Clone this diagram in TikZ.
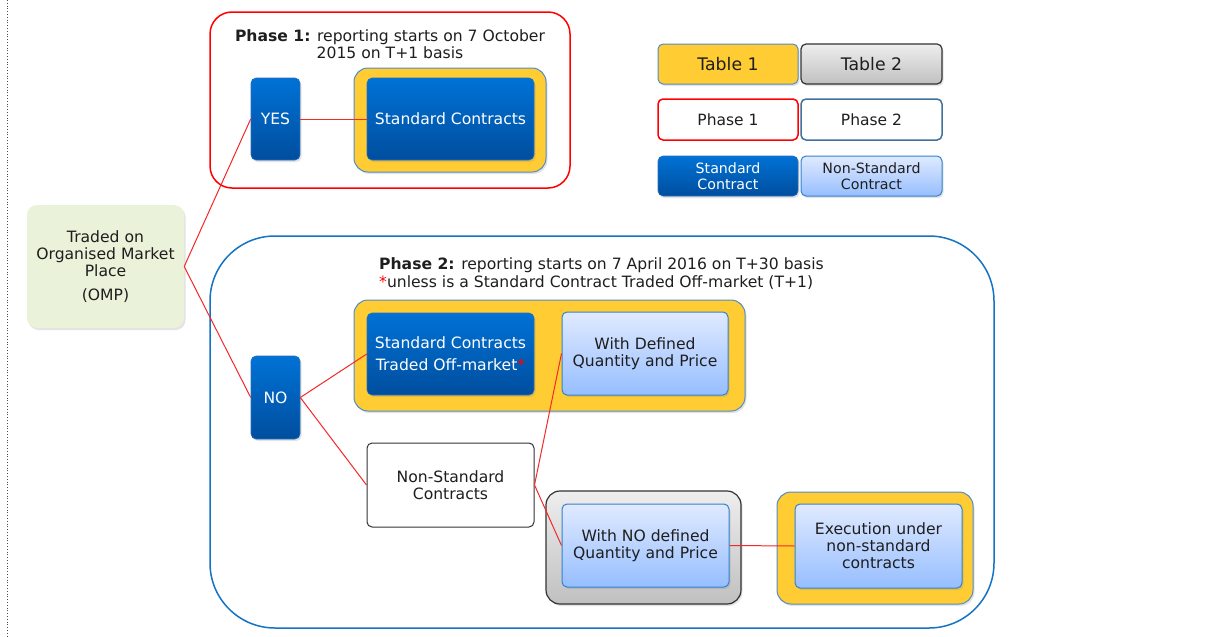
\documentclass[tikz,border=0pt]{standalone}
\usepackage{fontspec}
\setmainfont{DejaVu Sans}
\usetikzlibrary{shadows}
\definecolor{stdtop}{RGB}{0,114,214}
\definecolor{stdbot}{RGB}{0,78,158}
\definecolor{stdborder}{RGB}{40,110,190}
\definecolor{lbtop}{RGB}{224,234,255}
\definecolor{lbbot}{RGB}{150,190,255}
\definecolor{lbborder}{RGB}{50,130,205}
\definecolor{ygold}{RGB}{255,205,51}
\definecolor{yborder}{RGB}{80,140,200}
\definecolor{gtop}{RGB}{238,238,238}
\definecolor{gbot}{RGB}{192,192,192}
\definecolor{p2blue}{RGB}{20,115,195}
\definecolor{ompfill}{RGB}{235,242,218}
\definecolor{txt}{RGB}{30,30,30}
\definecolor{legptwo}{RGB}{65,113,156}
\definecolor{connred}{RGB}{245,40,40}
\tikzset{
  box/.style={rectangle, rounded corners=5pt, inner sep=0pt, align=center,
    font=\fontsize{15.6}{17}\selectfont, text=txt},
  shad/.style={drop shadow={opacity=0.22, shadow xshift=1.5pt, shadow yshift=-2pt}},
  stdbox/.style={box, shad, draw=stdborder, line width=0.6pt, top color=stdtop, bottom color=stdbot, text=white},
  lbbox/.style={box, shad, draw=lbborder, line width=1pt, top color=lbtop, bottom color=lbbot},
  ybox/.style={rectangle, shad, rounded corners=14pt, draw=yborder, line width=1pt, fill=ygold, inner sep=0pt},
  gbox/.style={rectangle, shad, rounded corners=14pt, draw=black!80, line width=1.2pt, top color=gtop, bottom color=gbot, inner sep=0pt},
  frame/.style={rectangle, inner sep=0pt, line width=1.5pt},
  conn/.style={draw=connred, line width=1pt},
}
\begin{document}
\begin{tikzpicture}[x=1pt,y=-1pt]
\useasboundingbox (0,0) rectangle (1205,637);
\fill[white] (0,0) rectangle (1205,637);
\draw[dotted, black!70, line width=0.8pt] (7,0) -- (7,637);

% Phase 1 frame
\node[frame, draw=red, rounded corners=22pt, minimum width=360pt, minimum height=176pt] (p1) at (390,100) {};
\node[box] (p1t) at (390,44.5) {\textbf{Phase 1:} reporting starts on 7 October\\2015 on T+1 basis};

% Phase 2 frame
\node[frame, draw=p2blue, rounded corners=65pt, minimum width=784pt, minimum height=392pt] (p2) at (602,432) {};
\node[box, anchor=west, align=left, font=\fontsize{15.6}{18}\selectfont] (p2t) at (379,274) {\textbf{Phase 2:} reporting starts on 7 April 2016 on T+30 basis\\\textcolor{red}{*}unless is a Standard Contract Traded Off-market (T+1)};

% OMP
\node[box, shad, rounded corners=10pt, fill=ompfill, minimum width=157pt, minimum height=123pt] (omp) at (105.5,266.5) {Traded on\\Organised Market\\Place\\[7pt](OMP)};

% Phase 1 content
\node[stdbox, minimum width=49pt, minimum height=82pt] (yes) at (275.5,119) {YES};
\node[ybox, minimum width=192pt, minimum height=104pt] (y1) at (450,120) {};
\node[stdbox, minimum width=167pt, minimum height=82pt] (std1) at (450.5,119) {Standard Contracts};

% Phase 2 content
\node[stdbox, minimum width=49pt, minimum height=83pt] (no) at (275.5,397.5) {NO};
\node[ybox, minimum width=391pt, minimum height=111pt] (y2) at (549.5,355.5) {};
\node[stdbox, minimum width=167pt, minimum height=82pt] (stdoff) at (450.5,354) {Standard Contracts\\[5pt]Traded Off-market\textcolor{red}{*}};
\node[lbbox, minimum width=166pt, minimum height=83pt] (defq) at (645,353.5) {With Defined\\Quantity and Price};
\node[box, fill=white, draw=black!80, line width=1pt, minimum width=167pt, minimum height=84pt] (nonstd) at (450.5,485) {Non-Standard\\Contracts};
\node[gbox, minimum width=195pt, minimum height=113pt] (g1) at (643.5,547.5) {};
\node[lbbox, minimum width=167pt, minimum height=83pt] (noq) at (645.5,545.5) {With NO defined\\Quantity and Price};
\node[ybox, minimum width=196pt, minimum height=112pt] (y3) at (875,548) {};
\node[lbbox, minimum width=167pt, minimum height=84pt] (exec) at (878.5,546) {Execution under\\non-standard\\contracts};

% Connectors
\draw[conn] (omp.east) -- (yes.west);
\draw[conn] (omp.east) -- (no.west);
\draw[conn] (yes.east) -- (std1.west);
\draw[conn] (no.east) -- (stdoff.west);
\draw[conn] (no.east) -- (nonstd.west);
\draw[conn] (nonstd.east) -- (defq.west);
\draw[conn] (nonstd.east) -- (noq.west);
\draw[conn] (noq.east) -- (exec.west);

% Legend
\node[box, shad, draw=yborder, line width=1pt, fill=ygold, minimum width=140pt, minimum height=40pt, font=\fontsize{17.3}{19}\selectfont] (lt1) at (728,64) {Table 1};
\node[box, shad, draw=black!80, line width=1.2pt, top color=gtop, bottom color=gbot, minimum width=141pt, minimum height=40pt, font=\fontsize{17.3}{19}\selectfont] (lt2) at (871.5,64) {Table 2};
\node[box, draw=red, line width=1.5pt, fill=white, minimum width=140pt, minimum height=41pt, font=\fontsize{15.5}{18}\selectfont] (lp1) at (728,119.5) {Phase 1};
\node[box, draw=legptwo, line width=1.5pt, fill=white, minimum width=141pt, minimum height=41pt, font=\fontsize{15.5}{18}\selectfont] (lp2) at (871.5,119.5) {Phase 2};
\node[stdbox, minimum width=140pt, minimum height=40pt, font=\fontsize{14.2}{16.5}\selectfont] (ls) at (728,176) {Standard\\Contract};
\node[lbbox, minimum width=141pt, minimum height=40pt, font=\fontsize{14.2}{16.5}\selectfont] (lns) at (871.5,176) {Non-Standard\\Contract};
\end{tikzpicture}
\end{document}
